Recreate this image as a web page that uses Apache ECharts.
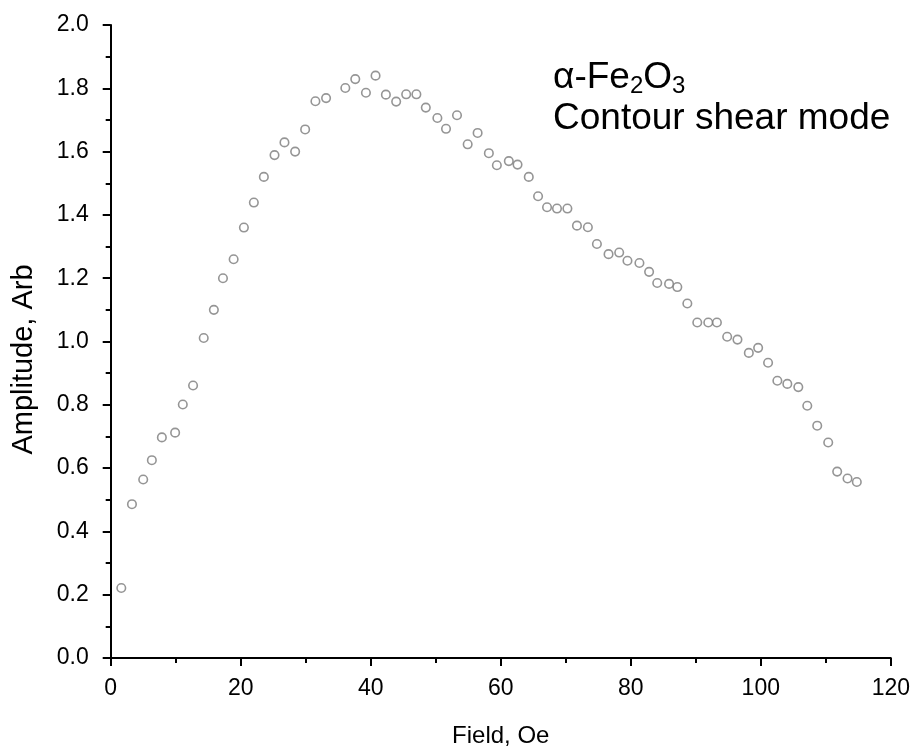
<!DOCTYPE html>
<html>
<head>
<meta charset="utf-8">
<script src="https://cdn.jsdelivr.net/npm/echarts@6/dist/echarts.min.js"></script>
<style>
html,body{margin:0;padding:0;background:#fff;}
#chart{width:913px;height:753px;}
</style>
</head>
<body>
<div id="chart"></div>
<script>
const fieldOe = [1.63, 3.27, 5.0, 6.33, 7.87, 9.91, 11.09, 12.67, 14.31, 15.87,
  17.27, 18.91, 20.49, 22.02, 23.56, 25.2, 26.73, 28.37, 29.91, 31.49,
  33.13, 36.09, 37.62, 39.26, 40.74, 42.33, 43.91, 45.45, 47.02, 48.47,
  50.25, 51.58, 53.27, 54.91, 56.44, 58.17, 59.4, 61.24, 62.58, 64.31,
  65.74, 67.12, 68.65, 70.25, 71.72, 73.4, 74.79, 76.58, 78.22, 79.49,
  81.33, 82.82, 84.07, 85.89, 87.16, 88.7, 90.23, 91.92, 93.25, 94.83,
  96.41, 98.16, 99.59, 101.12, 102.55, 104.08, 105.77, 107.15, 108.68, 110.37,
  111.75, 113.34, 114.77];
const amplitude = [0.221, 0.486, 0.564, 0.625, 0.697, 0.712, 0.801, 0.861, 1.011, 1.100,
  1.200, 1.260, 1.360, 1.439, 1.520, 1.589, 1.629, 1.600, 1.670, 1.759,
  1.769, 1.801, 1.829, 1.786, 1.840, 1.780, 1.758, 1.781, 1.781, 1.739,
  1.706, 1.672, 1.715, 1.623, 1.659, 1.595, 1.557, 1.570, 1.559, 1.520,
  1.459, 1.424, 1.420, 1.420, 1.366, 1.361, 1.308, 1.276, 1.281, 1.255,
  1.248, 1.220, 1.185, 1.182, 1.172, 1.120, 1.060, 1.060, 1.060, 1.015,
  1.006, 0.964, 0.980, 0.933, 0.876, 0.866, 0.856, 0.797, 0.734, 0.681,
  0.589, 0.567, 0.556];
const xTicks = [0, 20, 40, 60, 80, 100, 120];
const yTicks = [0.0, 0.2, 0.4, 0.6, 0.8, 1.0, 1.2, 1.4, 1.6, 1.8, 2.0];

const points = fieldOe.map((x, i) => [x, amplitude[i]]);
const FONT = 'Liberation Sans, Arial, sans-serif';

const chart = echarts.init(document.getElementById('chart'), null, {renderer: 'canvas'});
chart.setOption({
  animation: false,
  backgroundColor: '#fff',
  grid: {left: 110.7, right: 20.2, top: 25, bottom: 94.7, containLabel: false},
  xAxis: {
    type: 'value', min: xTicks[0], max: xTicks[xTicks.length - 1], interval: 20,
    name: 'Field, Oe', nameLocation: 'middle', nameGap: 66,
    nameTextStyle: {fontFamily: FONT, fontSize: 24, color: '#000'},
    axisLine: {onZero: false, lineStyle: {color: '#000', width: 2}},
    axisTick: {length: 8, lineStyle: {color: '#000', width: 2}},
    minorTick: {show: true, splitNumber: 2, length: 5, lineStyle: {color: '#000', width: 2}},
    splitLine: {show: false},
    axisLabel: {fontFamily: FONT, fontSize: 23, color: '#000', margin: 19,
      formatter: v => String(v)}
  },
  yAxis: {
    type: 'value', min: yTicks[0], max: yTicks[yTicks.length - 1], interval: 0.2,
    name: 'Amplitude, Arb', nameLocation: 'middle', nameGap: 72, nameRotate: 90,
    nameTextStyle: {fontFamily: FONT, fontSize: 29, color: '#000', padding: [0, 36, 0, 0]},
    axisLine: {show: true, onZero: false, lineStyle: {color: '#000', width: 2}},
    axisTick: {show: true, length: 8, lineStyle: {color: '#000', width: 2}},
    minorTick: {show: true, splitNumber: 2, length: 5, lineStyle: {color: '#000', width: 2}},
    splitLine: {show: false},
    axisLabel: {fontFamily: FONT, fontSize: 23, color: '#000', margin: 22,
      formatter: v => v.toFixed(1)}
  },
  graphic: [{
    type: 'text', left: 553, top: 57,
    style: {
      text: '{a|α-Fe}{s|2}{a|O}{s|3}\n{a|Contour shear mode}',
      fill: '#000',
      rich: {
        a: {fontFamily: FONT, fontSize: 37, lineHeight: 41, color: '#000', verticalAlign: 'middle'},
        s: {fontFamily: FONT, fontSize: 24, lineHeight: 24, padding: [17, 0, 0, 0], color: '#000', verticalAlign: 'middle'}
      }
    }
  }],
  series: [{
    type: 'scatter',
    data: points,
    symbol: 'circle',
    symbolSize: 8.5,
    itemStyle: {color: '#fff', borderColor: '#7a7a7a', borderWidth: 1.6}
  }]
});
</script>
</body>
</html>
